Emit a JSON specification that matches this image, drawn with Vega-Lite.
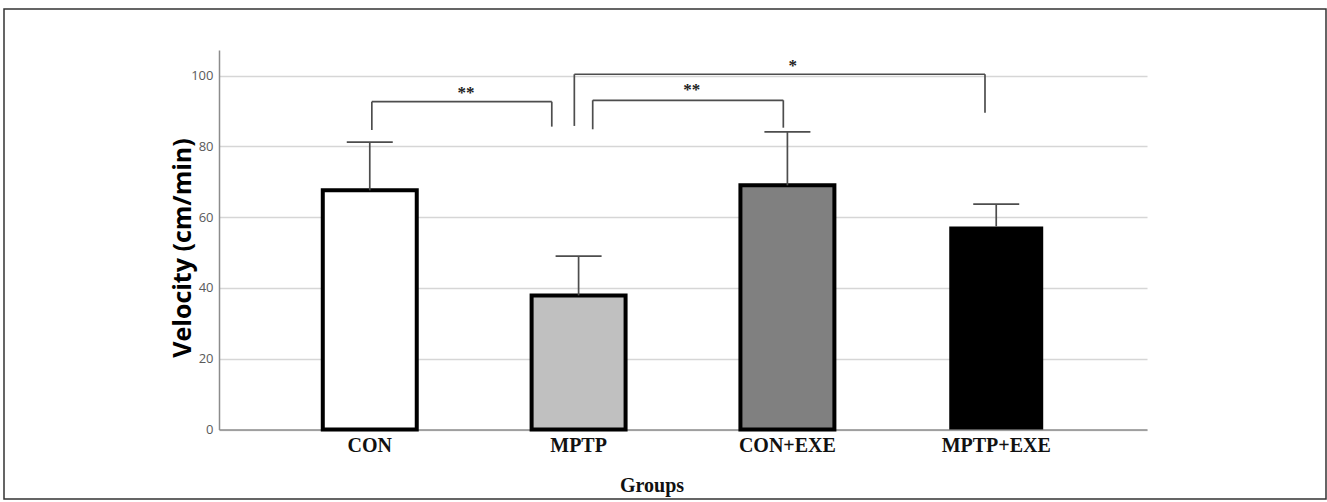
{
  "$schema": "https://vega.github.io/schema/vega-lite/v6.json",
  "width": 1322,
  "height": 490,
  "autosize": {"type": "none"},
  "padding": {"left": 4, "top": 9, "right": 1, "bottom": 3},
  "background": "white",
  "config": {"view": {"stroke": "#333333", "strokeWidth": 1.5}},
  "datasets": {
    "bars": [
      {"group": "CON", "mean": 67.6, "upper": 81.2},
      {"group": "MPTP", "mean": 37.9, "upper": 49.0},
      {"group": "CON+EXE", "mean": 69.0, "upper": 84.1},
      {"group": "MPTP+EXE", "mean": 57.4, "upper": 63.7}
    ],
    "brackets": [
      {"x1": 1.008, "x2": 1.870, "ytop": 92.65, "yleft": 84.65, "yright": 85.6, "label": "**", "xl": 1.459, "yl": 96.0},
      {"x1": 1.978, "x2": 3.945, "ytop": 100.4, "yleft": 85.8, "yright": 89.5, "label": "*", "xl": 3.024, "yl": 103.5},
      {"x1": 2.066, "x2": 2.979, "ytop": 93.05, "yleft": 84.85, "yright": 85.3, "label": "**", "xl": 2.540, "yl": 96.9}
    ]
  },
  "layer": [
    {
      "data": {"name": "bars"},
      "encoding": {
        "x": {
          "field": "group",
          "type": "nominal",
          "sort": ["CON", "MPTP", "CON+EXE", "MPTP+EXE"],
          "scale": {"range": [215, 1143], "paddingInner": 0.55, "paddingOuter": 0.497},
          "axis": {
            "title": "Groups",
            "orient": "bottom",
            "offset": -69.5,
            "ticks": false,
            "grid": false,
            "labelAngle": 0,
            "labelPadding": 6,
            "labelFont": "Liberation Serif",
            "labelFontWeight": "bold",
            "labelFontSize": 20,
            "labelColor": "#111111",
            "domainColor": "#8c8c8c",
            "domainWidth": 1.5,
            "titleFont": "Liberation Serif",
            "titleFontWeight": "bold",
            "titleFontSize": 20,
            "titleColor": "#111111",
            "titleX": 647.5,
            "titleY": 62,
            "titleBaseline": "alphabetic",
            "titleAlign": "center"
          }
        }
      },
      "layer": [
        {
          "mark": {"type": "bar", "strokeWidth": 4},
          "encoding": {
            "y": {
              "field": "mean",
              "type": "quantitative",
              "title": "Velocity (cm/min)",
              "scale": {"domain": [0, 107.26], "range": [420.5, 41], "nice": false, "zero": true},
              "axis": {"orient": "left", "values": [0, 20, 40, 60, 80, 100], "offset": -215, "grid": false, "domainColor": "#8c8c8c", "domainWidth": 1.5, "ticks": false, "labelPadding": 6, "labelFont": "Open Sans", "labelFontSize": 13, "labelColor": "#5a5a5a", "titleFont": "Open Sans", "titleFontSize": 25, "titleFontWeight": "bold", "titleColor": "#000000", "titleAngle": -90, "titleX": -24, "titleY": 238.5, "titleBaseline": "bottom", "titleAlign": "center"}
            },
            "color": {
              "field": "group",
              "type": "nominal",
              "scale": {"domain": ["CON", "MPTP", "CON+EXE", "MPTP+EXE"], "range": ["#ffffff", "#c0c0c0", "#808080", "#000000"]},
              "legend": null
            },
            "stroke": {
              "field": "group",
              "type": "nominal",
              "scale": {"domain": ["CON", "MPTP", "CON+EXE", "MPTP+EXE"], "range": ["#000000", "#000000", "#000000", "rgba(0,0,0,0)"]},
              "legend": null
            },
            "opacity": {"value": 1}
          }
        },
        {
          "mark": {"type": "rule", "color": "#4d4d4d", "strokeWidth": 1.7},
          "encoding": {
            "y": {
              "field": "mean",
              "type": "quantitative",
              "title": "Velocity (cm/min)",
              "axis": {"orient": "left", "values": [0, 20, 40, 60, 80, 100], "offset": -215, "grid": false, "domainColor": "#8c8c8c", "domainWidth": 1.5, "ticks": false, "labelPadding": 6, "labelFont": "Open Sans", "labelFontSize": 13, "labelColor": "#5a5a5a", "titleFont": "Open Sans", "titleFontSize": 25, "titleFontWeight": "bold", "titleColor": "#000000", "titleAngle": -90, "titleX": -24, "titleY": 238.5, "titleBaseline": "bottom", "titleAlign": "center"}
            },
            "y2": {"field": "upper"}
          }
        },
        {
          "mark": {"type": "tick", "orient": "horizontal", "size": 46, "thickness": 1.7, "color": "#4d4d4d", "opacity": 1},
          "encoding": {
            "y": {
              "field": "upper",
              "type": "quantitative",
              "title": "Velocity (cm/min)",
              "axis": {"orient": "left", "values": [0, 20, 40, 60, 80, 100], "offset": -215, "grid": false, "domainColor": "#8c8c8c", "domainWidth": 1.5, "ticks": false, "labelPadding": 6, "labelFont": "Open Sans", "labelFontSize": 13, "labelColor": "#5a5a5a", "titleFont": "Open Sans", "titleFontSize": 25, "titleFontWeight": "bold", "titleColor": "#000000", "titleAngle": -90, "titleX": -24, "titleY": 238.5, "titleBaseline": "bottom", "titleAlign": "center"}
            }
          }
        }
      ]
    },
    {
      "data": {"name": "brackets"},
      "encoding": {
        "y": {
          "field": "ytop",
          "type": "quantitative",
          "title": null,
          "axis": {"orient": "left", "values": [0, 20, 40, 60, 80, 100], "offset": 0, "grid": true, "gridColor": "#d6d6d6", "gridWidth": 1.5, "domain": false, "ticks": false, "labels": false, "title": null}
        }
      },
      "layer": [
        {
          "mark": {"type": "rule", "color": "#4d4d4d", "strokeWidth": 1.7},
          "encoding": {
            "x": {"field": "x1", "type": "quantitative", "scale": {"domain": [0.276, 4.721], "range": [215, 1143], "nice": false, "zero": false}, "axis": null},
            "x2": {"field": "x2"}
          }
        },
        {
          "mark": {"type": "rule", "color": "#4d4d4d", "strokeWidth": 1.7},
          "encoding": {
            "x": {"field": "x1", "type": "quantitative", "axis": null},
            "y2": {"field": "yleft"}
          }
        },
        {
          "mark": {"type": "rule", "color": "#4d4d4d", "strokeWidth": 1.7},
          "encoding": {
            "x": {"field": "x2", "type": "quantitative", "axis": null},
            "y2": {"field": "yright"}
          }
        },
        {
          "mark": {"type": "text", "font": "Liberation Serif", "fontWeight": "bold", "fontSize": 17, "color": "#222222", "baseline": "alphabetic", "align": "center", "dy": 8},
          "encoding": {
            "x": {"field": "xl", "type": "quantitative", "axis": null},
            "y": {"field": "yl", "type": "quantitative", "title": null, "axis": {"orient": "left", "values": [0, 20, 40, 60, 80, 100], "offset": 0, "grid": true, "gridColor": "#d6d6d6", "gridWidth": 1.5, "domain": false, "ticks": false, "labels": false, "title": null}},
            "text": {"field": "label"}
          }
        }
      ]
    }
  ],
  "resolve": {"scale": {"x": "independent"}, "axis": {"y": "independent"}}
}
